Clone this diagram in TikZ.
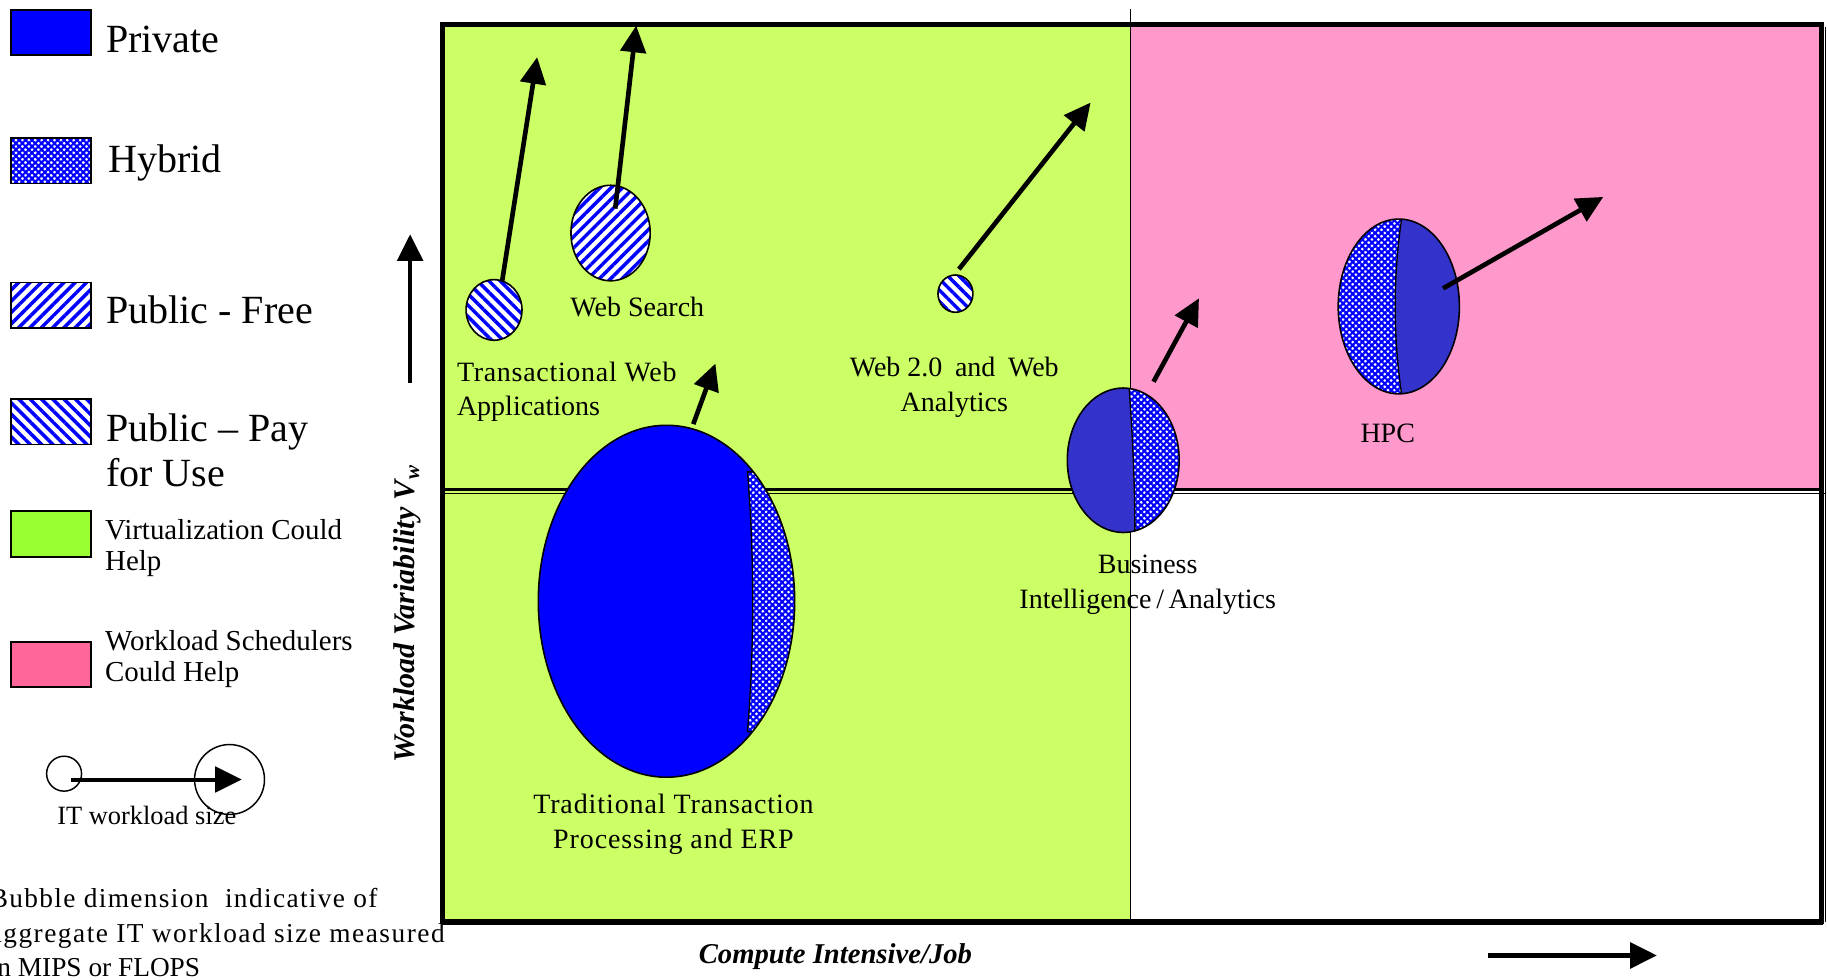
\documentclass[tikz,border=0pt]{standalone}
\usepackage{fontspec}
\setmainfont{Liberation Serif}
\usetikzlibrary{shapes.geometric,arrows.meta,patterns.meta}
\definecolor{quadgreen}{HTML}{CCFF66}
\definecolor{quadpink}{HTML}{FF99CC}
\definecolor{leggreen}{HTML}{99FF33}
\definecolor{legpink}{HTML}{FF6699}
\definecolor{pblue}{HTML}{0000FF}
\definecolor{dblue}{HTML}{3333CC}
\tikzset{
  bub/.style 2 args={ellipse, draw=black, line width=1.2pt, inner sep=0pt, outer sep=0pt, minimum width=#1*0.8739pt, minimum height=#2*0.8739pt},
  pubfree/.style={preaction={fill=white}, pattern={Lines[angle=45,distance=6pt,line width=2.6pt]}, pattern color=pblue},
  pubpay/.style={preaction={fill=white}, pattern={Lines[angle=-45,distance=6pt,line width=2.6pt]}, pattern color=pblue},
  hyb/.style={preaction={fill=white}, pattern={Hatch[angle=45,distance=3.4pt,line width=1.6pt]}, pattern color=pblue},
  legbox/.style={draw=black, line width=1.4pt, minimum width=69*0.8739pt, minimum height=39*0.8739pt, inner sep=0pt},
  arr/.style={line width=3.5pt, -{Triangle[length=20pt,width=19pt]}},
  bigtxt/.style={font=\fontsize{30}{34}\selectfont, inner sep=0pt},
  smtxt/.style={font=\fontsize{21.7}{23.6}\selectfont, inner sep=0pt},
  notetxt/.style={font=\fontsize{20.5}{25.8}\selectfont, inner sep=0pt},
  lbl/.style={font=\fontsize{21}{26.2}\selectfont, inner sep=0pt},
  axl/.style={font=\fontsize{21.5}{25}\selectfont\bfseries\itshape, inner sep=0pt},
}
\begin{document}
\begin{tikzpicture}[x=0.8739pt,y=-0.8739pt]
\useasboundingbox (0,0) rectangle (1568,841);
\fill[white] (0,0) rectangle (1568,841);
% quadrants
\fill[quadgreen] (380,21) rectangle (970,791);
\fill[quadpink] (970,21) rectangle (1563,420);
\draw[line width=1.1pt] (970,8) -- (970,791);
\draw[line width=1.9pt] (380,420) -- (1563,420);
\draw[line width=0.9pt] (380,423.8) -- (1567,423.8);
\draw[line width=0.9pt] (1567,23) -- (1567,791);
\draw[line width=3.6pt] (380,21) rectangle (1563,791);
\draw[line width=4.6pt] (378.2,791.5) -- (1564.8,791.5);

% legend
\node[legbox, fill=pblue] (lpriv) at (43.8,28) {};
\node[bigtxt, anchor=base west] (tpriv) at (91,45) {Private};
\node[legbox, hyb] (lhyb) at (43.8,138) {};
\node[bigtxt, anchor=base west] (thyb) at (93,148) {Hybrid};
\node[legbox, pubfree] (lfree) at (43.8,262) {};
\node[bigtxt, anchor=base west] (tfree) at (91,278) {Public - Free};
\node[legbox, pubpay] (lpay) at (43.8,362) {};
\node[bigtxt, anchor=base west, align=left] (tpay) at (91,417.7) {Public – Pay\\for Use};
\node[legbox, fill=leggreen] (lgreen) at (43.8,458.3) {};
\node[smtxt, anchor=base west, align=left] (tgreen) at (90,490) {Virtualization Could\\Help};
\node[legbox, fill=legpink] (lpink) at (43.8,570.3) {};
\node[smtxt, anchor=base west, align=left] (tpink) at (90,585) {Workload Schedulers\\Could Help};
\node[circle, draw, line width=1.1pt, minimum size=30*0.8739pt, inner sep=0pt] (lsm) at (55,664) {};
\node[circle, draw, line width=1.1pt, minimum size=60*0.8739pt, inner sep=0pt] (lbg) at (197,669) {};
\coordinate (lta) at (61,669);
\coordinate (ltb) at (207.5,669);
\draw[arr, line width=3pt] (lta) -- (ltb);
\node[notetxt, font=\fontsize{19.8}{22}\selectfont, anchor=base west] (tsize) at (49,708) {IT workload size};
\node[notetxt, anchor=base west, align=left] (tbubble) at (-9,838.2) {{\addfontfeature{LetterSpace=5}Bubble dimension\ \ indicative of}\\{\addfontfeature{LetterSpace=5.5}aggregate IT workload size measured}\\in MIPS or FLOPS};

% axes
\coordinate (ya) at (352,328.5);
\coordinate (yb) at (352,201);
\draw[arr] (ya) -- (yb);
\node[axl, font=\fontsize{22.5}{25}\selectfont\bfseries\itshape, rotate=90] (ylab) at (350,527) {Workload Variability V\textsubscript{w}};
\node[axl, anchor=base] (xlab) at (717,827) {Compute Intensive/Job};
\coordinate (xa) at (1277,820);
\coordinate (xb) at (1422,820);
\draw[arr] (xa) -- (xb);

% bubbles
\node[bub={48}{52}, pubpay] (tw) at (424,266) {};
\node[bub={68}{82}, pubfree] (ws) at (524,200) {};
\node[bub={30}{32}, pubpay] (w2) at (820,252) {};
\node[bub={220}{302}, fill=pblue, path picture={
  \begin{scope}[shift={(path picture bounding box.center)}]
    \path[hyb] (69.5,-111) -- (130,-111) -- (130,112) -- (69.5,112) .. controls (75.5,40) and (75.5,-40) .. cycle;
    \draw[line width=1pt] (130,-111) -- (69.5,-111) .. controls (75.5,-40) and (75.5,40) .. (69.5,112) -- (130,112);
  \end{scope}}] (ttp) at (572,516) {};
\node[bub={96}{124}, fill=dblue, path picture={
  \begin{scope}[shift={(path picture bounding box.center)}]
    \path[hyb] (5,-63) .. controls (8,-20) and (10,20) .. (10,63) -- (60,63) -- (60,-63) -- cycle;
    \draw[line width=1pt] (5,-63) .. controls (8,-20) and (10,20) .. (10,63);
  \end{scope}}] (bi) at (964,395) {};
\node[bub={104}{150}, fill=dblue, path picture={
  \begin{scope}[shift={(path picture bounding box.center)}]
    \path[hyb] (2.5,-76) .. controls (-5,-25) and (-5,25) .. (2.5,76) -- (-60,76) -- (-60,-76) -- cycle;
    \draw[line width=1pt] (2.5,-76) .. controls (-5,-25) and (-5,25) .. (2.5,76);
  \end{scope}}] (hpc) at (1200.5,263) {};

% bubble arrows
\coordinate (twa) at (431,241);
\coordinate (twb) at (461,49);
\draw[arr] (twa) -- (twb);
\coordinate (wsa) at (528,179);
\coordinate (wsb) at (546,22);
\draw[arr] (wsa) -- (wsb);
\coordinate (w2a) at (823,231);
\coordinate (w2b) at (936,88);
\draw[arr] (w2a) -- (w2b);
\coordinate (ttpa) at (595,364);
\coordinate (ttpb) at (614,312);
\draw[arr] (ttpa) -- (ttpb);
\coordinate (bia) at (990,327.6);
\coordinate (bib) at (1029,256);
\draw[arr] (bia) -- (bib);
\coordinate (hpca) at (1238.5,247.5);
\coordinate (hpcb) at (1376,169);
\draw[arr] (hpca) -- (hpcb);

% labels
\node[lbl, anchor=base west, align=left] (ltw) at (392,357) {{\addfontfeature{LetterSpace=2.5}Transactional Web}\\Applications};
\node[lbl, anchor=base] (lws) at (547,272) {Web Search};
\node[lbl, anchor=base, align=center] (lw2) at (819,353) {Web 2.0\hspace{0.45em}and\hspace{0.45em}Web\\Analytics};
\node[lbl, font=\fontsize{21}{26.2}\selectfont\addfontfeature{LetterSpace=3.2}, anchor=base, align=center] (lttp) at (578,728) {Traditional Transaction\\Processing and ERP};
\node[lbl, anchor=base, align=center] (lbi) at (985,522) {Business\\Intelligence\,/\,Analytics};
\node[lbl, anchor=base] (lhpc) at (1191,380) {HPC};
\end{tikzpicture}
\end{document}
